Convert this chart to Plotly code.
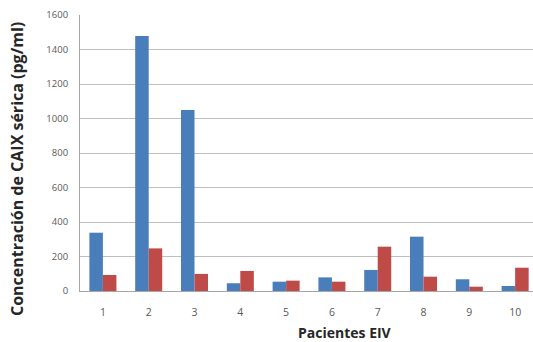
import plotly.graph_objects as go

pacientes = ["1", "2", "3", "4", "5", "6", "7", "8", "9", "10"]
serie_azul = [338, 1478, 1049, 45, 54, 79, 122, 315, 68, 29]
serie_roja = [93, 247, 99, 116, 60, 54, 257, 83, 25, 135]
y_ticks = [0, 200, 400, 600, 800, 1000, 1200, 1400, 1600]

x = list(range(1, len(pacientes) + 1))

fig = go.Figure()
fig.add_trace(go.Bar(x=x, y=serie_azul, marker=dict(color="#4A7EBB", line=dict(width=0)), showlegend=False))
fig.add_trace(go.Bar(x=x, y=serie_roja, marker=dict(color="#BE4B48", line=dict(width=0)), showlegend=False))

fig.update_layout(
    width=533, height=342,
    margin=dict(l=80, r=0, t=15, b=51, autoexpand=False),
    paper_bgcolor="white", plot_bgcolor="white",
    barmode="group", bargap=0.41, bargroupgap=0,
    font=dict(family="Open Sans", color="#404040"),
    xaxis=dict(
        tickmode="array", tickvals=x, ticktext=pacientes,
        range=[0.5, 10.39], automargin=False,
        showgrid=False, showline=True, linecolor="#A6A6A6", linewidth=1,
        ticks="", ticklabelstandoff=11, tickfont=dict(size=10.5, color="#595959"),
    ),
    yaxis=dict(
        range=[0, 1600], tickvals=y_ticks, automargin=False,
        showgrid=True, gridcolor="#BFBFBF", gridwidth=1,
        showline=True, linecolor="#A6A6A6", linewidth=1,
        zeroline=False, ticks="", ticklabelstandoff=9,
        tickfont=dict(size=9.5, color="#595959"),
    ),
    annotations=[
        dict(text="<b>Concentración de CAIX sérica (pg/ml)</b>", textangle=-90,
             xref="paper", yref="paper", x=0, y=0.442, xanchor="center", yanchor="middle",
             xshift=-63, showarrow=False, font=dict(size=16, color="#262626")),
        dict(text="<b>Pacientes EIV</b>",
             xref="paper", yref="paper", x=0.586, y=-0.152, xanchor="center", yanchor="middle",
             showarrow=False, font=dict(size=14, color="#262626")),
    ],
)

fig.write_html("out.html", config={"displayModeBar": False},
               post_script="document.body.style.margin='0';")
